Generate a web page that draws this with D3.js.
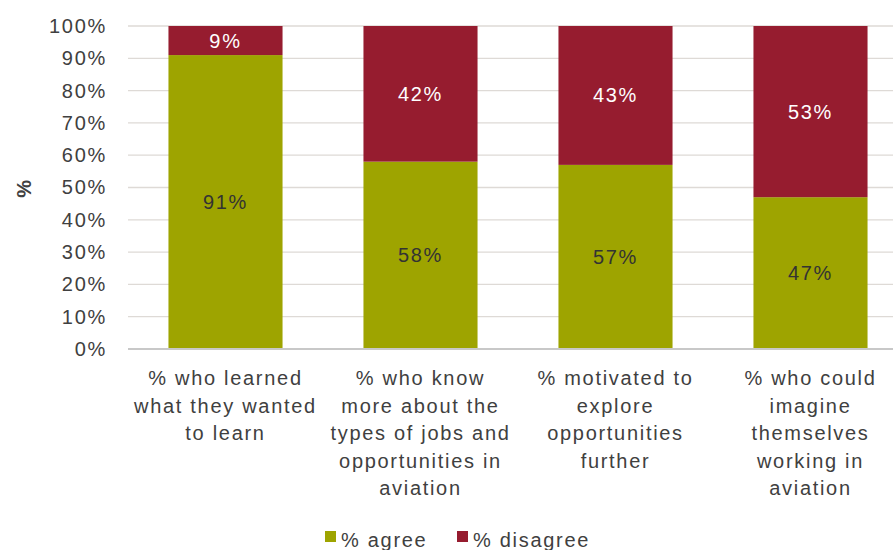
<!DOCTYPE html>
<html>
<head>
<meta charset="utf-8">
<script src="https://cdn.jsdelivr.net/npm/d3@7"></script>
<style>
  body { margin: 0; background: #fff; }
  svg { display: block; font-family: "Liberation Sans", Arial, sans-serif; }
  text { letter-spacing: 1.7px; }
</style>
</head>
<body>
<svg id="svg" width="893" height="550"></svg>
<script>
// chart data
const categories = [
  ["% who learned", "what they wanted", "to learn"],
  ["% who know", "more about the", "types of jobs and", "opportunities in", "aviation"],
  ["% motivated to", "explore", "opportunities", "further"],
  ["% who could", "imagine", "themselves", "working in", "aviation"]
];
const agree = [91, 58, 57, 47];
const disagree = [9, 42, 43, 53];
const seriesNames = ["% agree", "% disagree"];
const yTicks = [0, 10, 20, 30, 40, 50, 60, 70, 80, 90, 100];

const green = "#9ea400";
const red = "#961c2f";
const fs = 20;

let svg = d3.select("#svg");

let xScale = d3.scaleBand().domain(d3.range(categories.length)).range([128, 908]).paddingInner(0.415).paddingOuter(0.2075);
let yScale = d3.scaleLinear().domain([0, 100]).range([349, 26]);

// grid
svg.append("g")
  .selectAll("line")
  .data(yTicks.filter((d) => d > 0))
  .enter()
  .append("line")
  .attr("x1", 128)
  .attr("x2", 893)
  .attr("y1", (d) => yScale(d))
  .attr("y2", (d) => yScale(d))
  .attr("stroke", "#dedad6")
  .attr("stroke-width", 1.3);

// y axis labels
let yAxis = svg.append("g")
  .attr("transform", "translate(128,0)")
  .call(d3.axisLeft(yScale).tickValues(yTicks).tickFormat((d) => d + "%").tickSize(0).tickPadding(21));
yAxis.select(".domain").remove();
yAxis.selectAll("text")
  .attr("font-size", fs)
  .attr("font-family", "Liberation Sans, Arial, sans-serif")
  .attr("fill", "#404040");

svg.append("text")
  .attr("transform", "translate(31,188) rotate(-90)")
  .attr("text-anchor", "middle")
  .attr("font-size", fs)
  .attr("font-weight", "bold")
  .attr("fill", "#404040")
  .text("%");

// bars
let stacked = agree.map((a, i) => ({ i: i, agree: a, disagree: disagree[i] }));

svg.append("g")
  .selectAll("rect")
  .data(stacked)
  .enter()
  .append("rect")
  .attr("x", (d) => xScale(d.i))
  .attr("width", xScale.bandwidth())
  .attr("y", (d) => yScale(d.agree))
  .attr("height", (d) => yScale(0) - yScale(d.agree))
  .attr("fill", green);

svg.append("g")
  .selectAll("rect")
  .data(stacked)
  .enter()
  .append("rect")
  .attr("x", (d) => xScale(d.i))
  .attr("width", xScale.bandwidth())
  .attr("y", (d) => yScale(d.agree + d.disagree))
  .attr("height", (d) => yScale(d.agree) - yScale(d.agree + d.disagree))
  .attr("fill", red);

// value labels
svg.append("g")
  .selectAll("text")
  .data(stacked)
  .enter()
  .append("text")
  .attr("x", (d) => xScale(d.i) + xScale.bandwidth() / 2)
  .attr("y", (d) => yScale(d.agree / 2))
  .attr("dy", "0.35em")
  .attr("text-anchor", "middle")
  .attr("font-size", fs)
  .attr("fill", "#333")
  .text((d) => d.agree + "%");

svg.append("g")
  .selectAll("text")
  .data(stacked)
  .enter()
  .append("text")
  .attr("x", (d) => xScale(d.i) + xScale.bandwidth() / 2)
  .attr("y", (d) => yScale(d.agree + d.disagree / 2))
  .attr("dy", "0.35em")
  .attr("text-anchor", "middle")
  .attr("font-size", fs)
  .attr("fill", "#fff")
  .text((d) => d.disagree + "%");

// baseline
svg.append("line")
  .attr("x1", 128)
  .attr("x2", 893)
  .attr("y1", yScale(0))
  .attr("y2", yScale(0))
  .attr("stroke", "#c8c8c8")
  .attr("stroke-width", 2);

// category labels
let catLabels = svg.append("g")
  .selectAll("text")
  .data(categories)
  .enter()
  .append("text")
  .attr("x", (d, i) => xScale(i) + xScale.bandwidth() / 2)
  .attr("y", 385)
  .attr("text-anchor", "middle")
  .attr("font-size", fs)
  .attr("fill", "#404040");
catLabels.each(function (d, i) {
  let x = xScale(i) + xScale.bandwidth() / 2;
  d3.select(this)
    .selectAll("tspan")
    .data(d)
    .enter()
    .append("tspan")
    .attr("x", x)
    .attr("dy", (t, j) => (j === 0 ? 0 : 27.5))
    .text((t) => t);
});

// legend
let cScale = d3.scaleOrdinal().domain(seriesNames).range([green, red]);
let legend = svg.selectAll(".legend")
  .data(cScale.domain())
  .enter()
  .append("g")
  .attr("class", "legend")
  .attr("transform", (d, i) => "translate(" + (325 + i * 132) + ",540)");
legend.append("rect")
  .attr("x", 0)
  .attr("y", -9)
  .attr("width", 11)
  .attr("height", 11)
  .style("fill", cScale);
legend.append("text")
  .attr("x", 16)
  .attr("y", 7)
  .attr("font-size", fs)
  .attr("fill", "#404040")
  .text((d) => d);
</script>
</body>
</html>
